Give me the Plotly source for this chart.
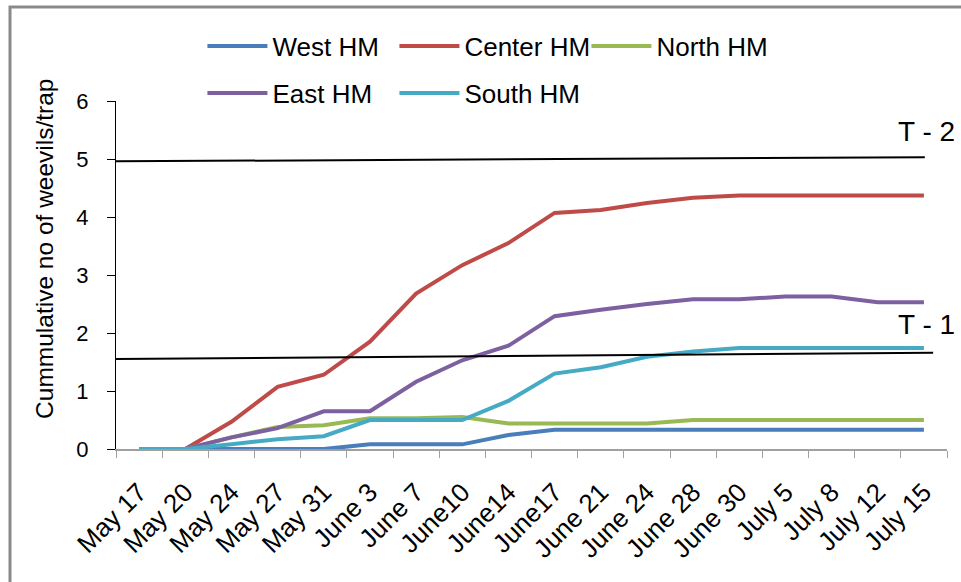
import plotly.graph_objects as go

# Sampling dates (x categories)
dates = ["May 17", "May 20", "May 24", "May 27", "May 31", "June 3", "June 7",
         "June10", "June14", "June17", "June 21", "June 24", "June 28", "June 30",
         "July 5", "July 8", "July 12", "July 15"]

# Cumulative weevils per trap for each headland margin
west_hm = [0, 0, 0, 0, 0, 0.08, 0.08, 0.08, 0.24, 0.33, 0.33, 0.33, 0.33, 0.33,
           0.33, 0.33, 0.33, 0.33]
center_hm = [0, 0, 0.47, 1.07, 1.28, 1.85, 2.68, 3.17, 3.55, 4.07, 4.12, 4.24,
             4.33, 4.37, 4.37, 4.37, 4.37, 4.37]
north_hm = [0, 0, 0.2, 0.38, 0.41, 0.53, 0.53, 0.55, 0.44, 0.44, 0.44, 0.44,
            0.50, 0.50, 0.50, 0.50, 0.50, 0.50]
east_hm = [0, 0, 0.2, 0.36, 0.65, 0.65, 1.16, 1.53, 1.78, 2.29, 2.40, 2.50,
           2.58, 2.58, 2.63, 2.63, 2.53, 2.53]
south_hm = [0, 0, 0.08, 0.17, 0.22, 0.50, 0.50, 0.50, 0.83, 1.30, 1.41, 1.59,
            1.68, 1.74, 1.74, 1.74, 1.74, 1.74]

series = [
    ("West HM", west_hm, "#4A7EBB", "legend"),
    ("Center HM", center_hm, "#BE4B48", "legend"),
    ("North HM", north_hm, "#98B954", "legend"),
    ("East HM", east_hm, "#7D60A0", "legend2"),
    ("South HM", south_hm, "#46AAC5", "legend2"),
]

# Threshold lines: label, start value, end value, end index on the category axis,
# label position (value)
thresholds = [
    ("T - 2", 4.96, 5.03, 17.02, 5.47),
    ("T - 1", 1.55, 1.66, 17.2, 2.14),
]

Y_TITLE = "Cummulative no of weevils/trap"
FONT = "Liberation Sans, Arial, sans-serif"

fig = go.Figure()
for name, vals, color, leg in series:
    fig.add_trace(go.Scatter(
        x=dates, y=vals, mode="lines", name=name,
        line=dict(color=color, width=4),
        legend=leg,
    ))

for label, y0, y1, xend, ylab in thresholds:
    fig.add_shape(type="line", xref="x", yref="y", x0=-0.5, x1=xend,
                  y0=y0, y1=y1, line=dict(color="black", width=2))
    fig.add_annotation(x=0.975, y=ylab, xref="paper", yref="y", text=label,
                       showarrow=False, xanchor="center", yanchor="middle",
                       font=dict(family=FONT, size=28, color="black"))

# Y-axis title, placed as a rotated annotation
fig.add_annotation(x=-0.0854, y=0.575, xref="paper", yref="paper", text=Y_TITLE,
                   textangle=-90, showarrow=False, xanchor="center",
                   yanchor="middle",
                   font=dict(family=FONT, size=24.5, color="black"))

# Outer frame of the chart area
fig.add_shape(type="rect", xref="paper", yref="paper",
              x0=(10 - 116) / 831, x1=1.2, y0=-0.6, y1=(449 - 7) / 348,
              line=dict(color="#8a8a8a", width=3), layer="below")

legend_common = dict(
    orientation="h", xanchor="left", yanchor="middle",
    entrywidth=117, entrywidthmode="pixels", itemwidth=60,
    font=dict(family=FONT, size=26), bgcolor="rgba(0,0,0,0)",
)

fig.update_layout(
    width=961, height=582,
    margin=dict(l=116, r=14, t=101, b=133, autoexpand=False),
    paper_bgcolor="white", plot_bgcolor="white",
    font=dict(family=FONT, color="black"),
    legend=dict(x=0.104, y=1.158, **legend_common),
    legend2=dict(x=0.104, y=1.023, **legend_common),
    xaxis=dict(
        type="category", range=[-0.5, 17.5], tickangle=-45,
        tickson="boundaries", ticks="outside", ticklen=7, tickcolor="#a0a0a0",
        showline=True, linecolor="#a0a0a0", linewidth=1.5, showgrid=False,
        ticklabelstandoff=16,
        tickfont=dict(family=FONT, size=26, color="black"),
    ),
    yaxis=dict(
        range=[0, 6], dtick=1, ticks="outside", ticklen=8, tickcolor="black",
        showline=True, linecolor="black", linewidth=1, showgrid=False,
        zeroline=False, ticklabelstandoff=14,
        tickfont=dict(family=FONT, size=22, color="black"),
    ),
)

fig.write_html("out.html")
